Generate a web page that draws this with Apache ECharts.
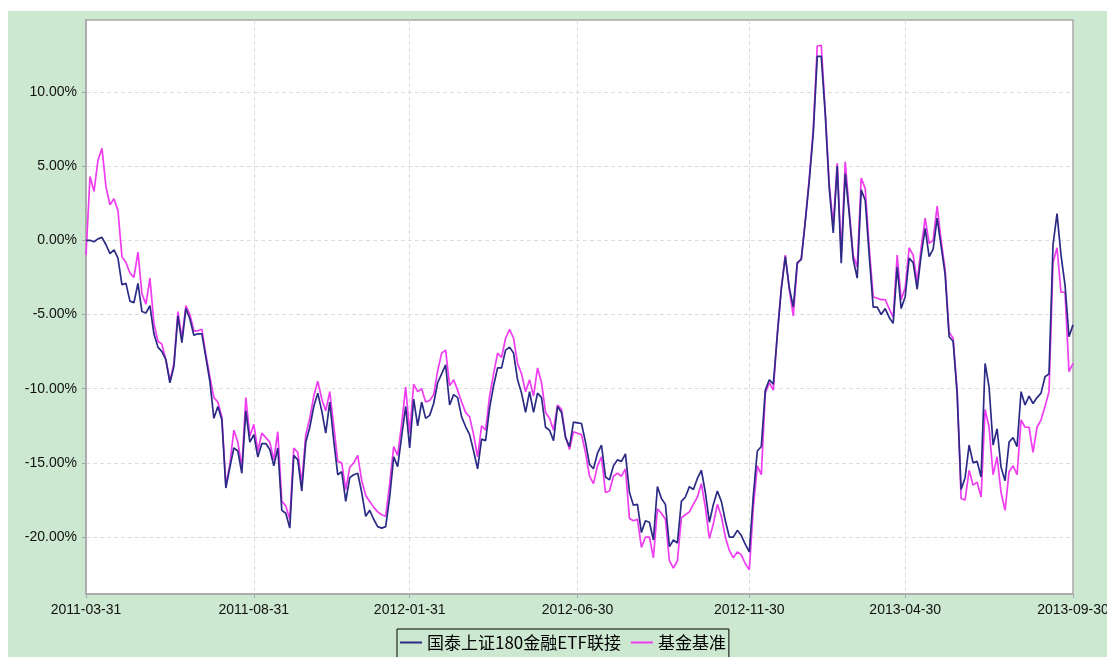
<!DOCTYPE html>
<html><head><meta charset="utf-8">
<script src="https://cdn.jsdelivr.net/npm/echarts@6/dist/echarts.min.js"></script>
<style>html,body{margin:0;padding:0;background:#fff;width:1107px;height:657px;overflow:hidden}
#c{position:absolute;left:8px;top:11px;width:1099px;height:646px}</style>
</head><body><div id="c"></div>
<script>
const seriesNames = ['国泰上证180金融ETF联接', '基金基准'];
const xTickIdx = [0, 42, 81, 123, 166, 205, 247];
const xTickLabels = ['2011-03-31', '2011-08-31', '2012-01-31', '2012-06-30', '2012-11-30', '2013-04-30', '2013-09-30'];
const yTicks = [10, 5, 0, -5, -10, -15, -20];
const yMin = -23.84, yMax = 14.85;

const fund = [0,0,-0.1,0.1,0.2,-0.3,-0.9,-0.65,-1.2,-3.0,-2.9,-4.1,-4.2,-2.9,-4.8,-4.9,-4.4,-6.3,-7.2,-7.5,
-8.05,-9.6,-8.5,-5.1,-6.9,-4.6,-5.3,-6.4,-6.3,-6.3,-7.9,-9.5,-12.0,-11.2,-12.1,-16.7,-15.3,-14.0,-14.2,-15.7,
-11.5,-13.6,-13.1,-14.6,-13.7,-13.7,-14.1,-15.2,-14.0,-18.2,-18.4,-19.4,-14.5,-14.8,-16.9,-13.6,-12.6,-11.2,-10.3,-11.5,
-13.0,-10.9,-13.5,-15.8,-15.6,-17.6,-16.0,-15.8,-15.7,-17.0,-18.6,-18.2,-18.8,-19.3,-19.4,-19.3,-17.3,-14.6,-15.25,-13.2,
-11.2,-14.0,-10.7,-12.5,-10.9,-12.0,-11.8,-11.0,-9.6,-9.0,-8.4,-11.1,-10.4,-10.6,-11.9,-12.55,-13.1,-14.2,-15.4,-13.4,
-13.5,-11.3,-9.8,-8.6,-8.6,-7.4,-7.2,-7.6,-9.4,-10.3,-11.6,-10.2,-11.6,-10.3,-10.6,-12.6,-12.8,-13.5,-11.2,-11.6,
-13.3,-13.9,-12.25,-12.3,-12.35,-13.6,-15.1,-15.4,-14.35,-13.8,-15.95,-16.15,-15.2,-14.8,-14.9,-14.4,-17.0,-17.85,-17.8,-19.7,
-18.9,-19.0,-20.2,-16.6,-17.4,-17.8,-20.65,-20.2,-20.4,-17.6,-17.3,-16.6,-16.8,-16.05,-15.5,-17.0,-19.0,-17.8,-16.9,-17.6,
-18.9,-20.0,-20.0,-19.55,-19.9,-20.5,-21.0,-17.2,-14.2,-13.9,-10.1,-9.4,-9.7,-6.4,-3.3,-1.1,-3.2,-4.5,-1.5,-1.3,
1.25,4.0,7.2,12.4,12.4,8.5,3.5,0.5,5.0,-1.55,4.5,1.8,-1.3,-2.55,3.4,2.7,-1.0,-4.5,-4.5,-5.0,
-4.6,-5.2,-5.6,-1.8,-4.6,-3.8,-1.2,-1.5,-3.3,-1.0,0.8,-1.1,-0.6,1.5,-0.4,-2.3,-6.5,-6.8,-10.3,-16.8,
-16.0,-13.8,-15.0,-14.9,-15.95,-8.3,-9.9,-13.8,-12.7,-15.3,-16.2,-13.6,-13.3,-13.9,-10.2,-11.1,-10.5,-11.0,-10.6,-10.3,
-9.2,-9.0,-0.3,1.8,-1.0,-3.0,-6.5,-5.7];

const bench = [-1.0,4.3,3.3,5.4,6.2,3.6,2.4,2.8,2.0,-1.1,-1.5,-2.2,-2.5,-0.8,-3.6,-4.3,-2.55,-5.6,-6.8,-7.0,
-8.1,-9.5,-8.3,-4.8,-6.6,-4.4,-5.0,-6.1,-6.1,-6.0,-7.7,-9.2,-10.6,-10.9,-11.9,-16.5,-15.1,-12.8,-13.6,-15.3,
-10.6,-13.2,-12.4,-14.2,-13.0,-13.3,-13.6,-14.8,-12.9,-17.6,-17.9,-18.8,-14.0,-14.3,-16.4,-13.1,-12.0,-10.5,-9.5,-10.7,
-11.5,-10.2,-12.5,-14.9,-15.0,-16.8,-15.3,-15.0,-14.5,-16.2,-17.2,-17.6,-18.0,-18.3,-18.5,-18.6,-16.4,-13.9,-14.5,-12.35,
-9.9,-13.0,-9.7,-10.2,-10.0,-10.9,-10.8,-10.4,-8.8,-7.6,-7.4,-9.8,-9.4,-10.1,-10.9,-11.6,-11.9,-13.1,-14.6,-12.5,
-12.8,-10.5,-9.0,-7.6,-7.9,-6.6,-6.0,-6.6,-8.3,-9.0,-10.2,-9.4,-10.5,-8.6,-9.6,-11.6,-12.0,-12.8,-11.1,-11.4,
-13.2,-14.1,-12.9,-13.0,-13.1,-14.3,-15.9,-16.4,-15.2,-14.6,-17.0,-16.9,-15.9,-15.7,-15.9,-15.4,-18.75,-18.9,-18.8,-20.7,
-20.0,-20.0,-21.4,-18.1,-18.4,-18.8,-21.6,-22.1,-21.6,-18.7,-18.5,-18.3,-17.8,-17.3,-16.4,-18.0,-20.1,-19.1,-17.8,-18.6,
-20.0,-20.9,-21.4,-21.0,-21.2,-21.8,-22.2,-18.0,-15.2,-15.8,-10.3,-9.6,-10.1,-6.3,-3.2,-1.0,-3.3,-5.1,-1.6,-1.2,
1.3,4.2,7.5,13.1,13.15,8.7,3.8,1.0,5.2,-0.9,5.3,2.0,-1.0,-1.8,4.2,3.5,-0.5,-3.8,-3.9,-4.0,
-4.0,-4.6,-5.2,-1.0,-4.0,-3.2,-0.5,-1.0,-2.8,-0.5,1.5,-0.2,0.0,2.3,0.0,-2.0,-6.2,-6.6,-10.1,-17.4,
-17.5,-15.5,-16.5,-16.3,-17.3,-11.4,-12.6,-15.8,-14.6,-17.0,-18.2,-15.6,-15.2,-15.8,-12.1,-12.6,-12.6,-14.3,-12.6,-12.1,
-11.2,-10.2,-1.5,-0.5,-3.5,-3.5,-8.85,-8.3];

const cats = fund.map((_, i) => i);
const isTick = (i) => xTickIdx.indexOf(i) >= 0;

const chart = echarts.init(document.getElementById('c'), null, { width: 1099, height: 646 });
chart.setOption({
  backgroundColor: '#cde8d0',
  animation: false,
  grid: { left: 78, right: 34, top: 9, bottom: 63, outerBoundsMode: 'none', containLabel: false,
    show: true, backgroundColor: '#ffffff', borderColor: '#a8a8a8', borderWidth: 1.5 },
  legend: {
    data: seriesNames,
    left: 389, top: 618,
    borderColor: '#000', borderWidth: 1,
    padding: [5, 3, 12, 3],
    itemGap: 10, itemWidth: 22, itemHeight: 2, icon: 'rect',
    textStyle: { fontSize: 17, color: '#000', fontFamily: 'Noto Sans CJK SC, sans-serif' }
  },
  xAxis: {
    type: 'category', data: cats, boundaryGap: false,
    axisLine: { onZero: false, lineStyle: { color: '#a8a8a8', width: 1.5 } },
    axisTick: { interval: (i) => isTick(i), length: 4, lineStyle: { color: '#a8a8a8' } },
    axisLabel: { interval: (i) => isTick(i), formatter: (v, i) => xTickLabels[xTickIdx.indexOf(Number(v))] || '',
      fontSize: 14, color: '#111', fontFamily: 'Liberation Sans, Arial, sans-serif', margin: 9, hideOverlap: false },
    splitLine: { show: true, interval: (i) => isTick(i) && i !== 0 && i !== cats.length - 1, lineStyle: { color: '#dcdcdc', type: [4, 3], width: 1 } }
  },
  yAxis: {
    type: 'value', min: yMin, max: yMax,
    axisLine: { show: true, onZero: false, lineStyle: { color: '#a8a8a8', width: 1.5 } },
    axisTick: { show: true, customValues: yTicks, length: 4, lineStyle: { color: '#a8a8a8' } },
    axisLabel: { customValues: yTicks, formatter: (v) => v.toFixed(2) + '%', fontSize: 14, color: '#111',
      fontFamily: 'Liberation Sans, Arial, sans-serif', margin: 9 },
    splitLine: { show: true, lineStyle: { color: '#dcdcdc', type: [4, 3], width: 1 } }
  },
  series: [
    { name: seriesNames[1], type: 'line', data: bench, showSymbol: false, symbol: 'none', z: 2,
      lineStyle: { color: '#f03cf0', width: 1.7 }, itemStyle: { color: '#f03cf0' } },
    { name: seriesNames[0], type: 'line', data: fund, showSymbol: false, symbol: 'none', z: 3,
      lineStyle: { color: '#2b2b86', width: 1.7 }, itemStyle: { color: '#2b2b86' } }
  ]
});
</script></body></html>
